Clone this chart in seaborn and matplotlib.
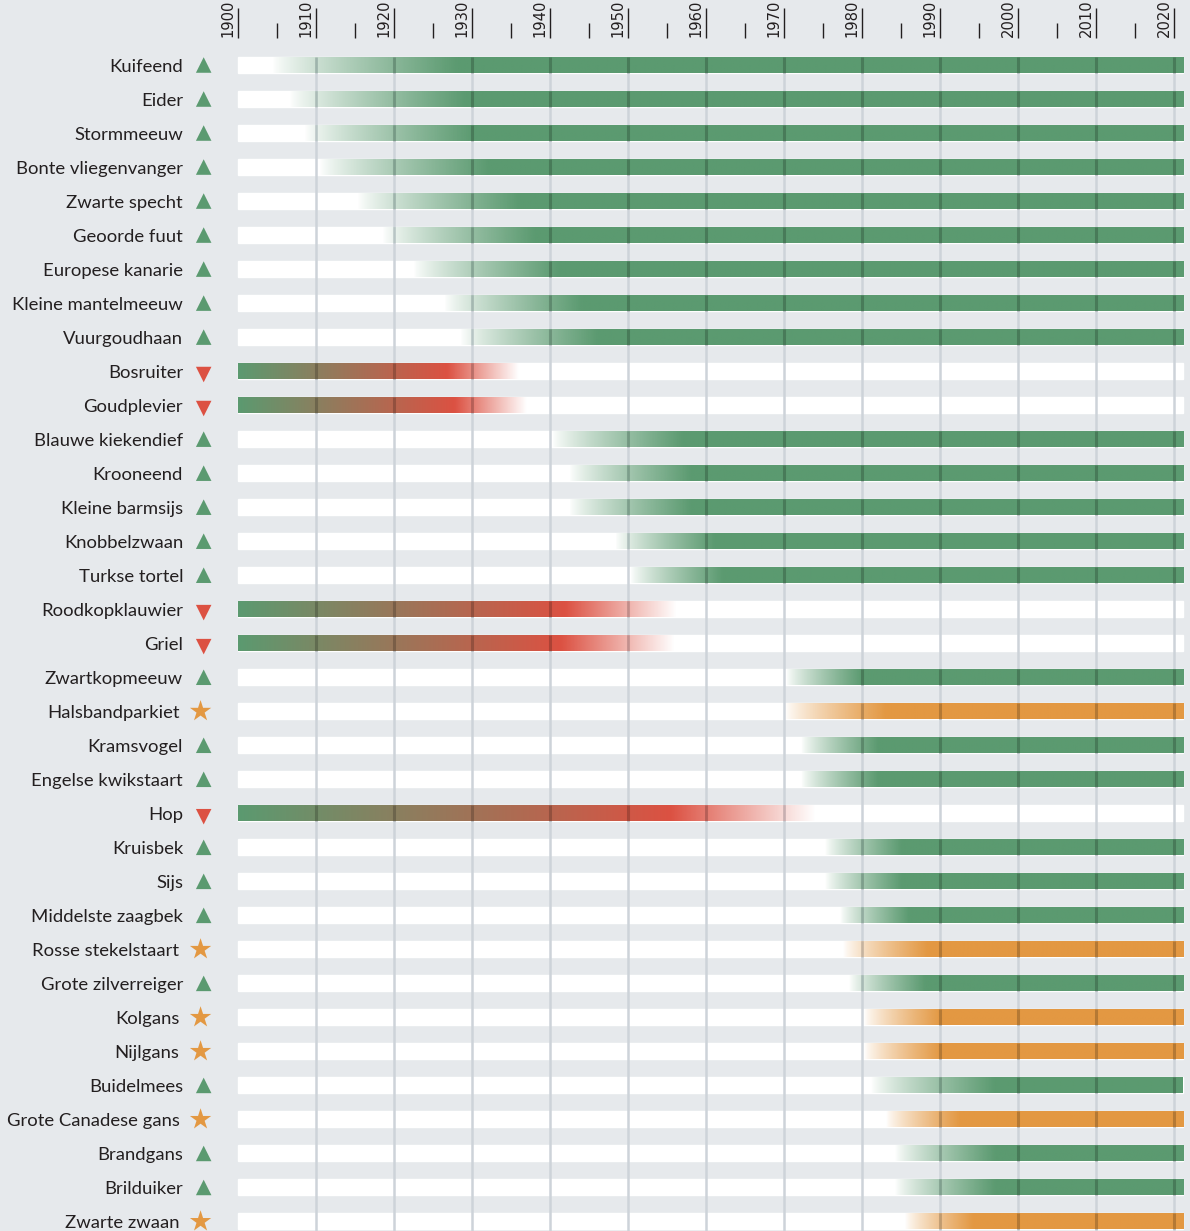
import numpy as np
import pandas as pd
import seaborn as sns
import matplotlib.pyplot as plt
from matplotlib.colors import to_rgb

# species, trend and years
species = ['Kuifeend', 'Eider', 'Stormmeeuw', 'Bonte vliegenvanger', 'Zwarte specht',
           'Geoorde fuut', 'Europese kanarie', 'Kleine mantelmeeuw', 'Vuurgoudhaan',
           'Bosruiter', 'Goudplevier', 'Blauwe kiekendief', 'Krooneend', 'Kleine barmsijs',
           'Knobbelzwaan', 'Turkse tortel', 'Roodkopklauwier', 'Griel', 'Zwartkopmeeuw',
           'Halsbandparkiet', 'Kramsvogel', 'Engelse kwikstaart', 'Hop', 'Kruisbek', 'Sijs',
           'Middelste zaagbek', 'Rosse stekelstaart', 'Grote zilverreiger', 'Kolgans',
           'Nijlgans', 'Buidelmees', 'Grote Canadese gans', 'Brandgans', 'Brilduiker',
           'Zwarte zwaan']
trend = ['up', 'up', 'up', 'up', 'up', 'up', 'up', 'up', 'up',
         'down', 'down', 'up', 'up', 'up', 'up', 'up', 'down', 'down', 'up',
         'new', 'up', 'up', 'down', 'up', 'up', 'up', 'new', 'up', 'new',
         'new', 'up', 'new', 'up', 'up', 'new']
# up/new: colour starts at begin_year, fully solid at solid_year
# down: green at begin_year, red at solid_year, gone at end_year
begin_year = [1904.4, 1906.5, 1908.4, 1910.4, 1915.3, 1918.5, 1922.4, 1926.4, 1928.5,
              1900, 1900, 1940.3, 1942.4, 1942.4, 1948.3, 1950.2, 1900, 1900, 1970.3,
              1970.1, 1972.2, 1972.2, 1900, 1975.2, 1975.2, 1977.2, 1977.5, 1978.3, 1980.2,
              1980.2, 1981.2, 1983.1, 1984.2, 1984.2, 1985.5]
solid_year = [1928, 1929, 1930, 1932, 1936, 1938, 1941, 1944, 1946,
              1926.8, 1927.8, 1957, 1958, 1958, 1961, 1962, 1942, 1941.5, 1980,
              1983, 1982, 1982, 1955.6, 1985, 1985, 1986, 1988.3, 1988, 1990,
              1990, 1997, 1992.5, 1997, 1997, 1994.2]
end_year = [2021.2] * 9 + [1935.9, 1937.0] + [2021.2] * 5 + [1956.2, 1956.0, 2021.2,
            2021.2, 2021.2, 2021.2, 1974.1] + [2021.2] * 12
decades = list(range(1900, 2021, 10))
half_decades = list(range(1905, 2020, 10))

BG = '#e6e9ec'
GREEN = '#5b9a70'
RED = '#dc5142'
ORANGE = '#e39842'
GRID = '#cdd3d9'
BAR_H = 0.47
X_END = 2021.2

sns.set_theme(style='white', rc={'figure.facecolor': BG, 'axes.facecolor': BG})
plt.rcParams['font.family'] = ['Lato', 'DejaVu Sans']

fig = plt.figure(figsize=(11.9, 12.31), dpi=100)
ax = fig.add_axes([0, 0, 1, 1 - 38 / 1231])

rows = np.arange(len(species))

# white background bars
ax.barh(rows, X_END - 1900, left=1900, height=BAR_H, color='white', zorder=1)

# light grid lines, from top of first bar downwards
for yr in decades[1:]:
    ax.plot([yr, yr], [-BAR_H / 2, 40], color=GRID, lw=1.8, zorder=1.5,
            solid_capstyle='butt')


def bar_rgba(i, xs):
    b, s, e = begin_year[i], solid_year[i], end_year[i]
    if trend[i] == 'down':
        t = np.clip((xs - b) / (s - b), 0, 1)[:, None]
        rgb = (1 - t) * np.array(to_rgb(GREEN)) + t * np.array(to_rgb(RED))
        alpha = 1 - np.clip((xs - s) / (e - s), 0, 1)
    else:
        col = GREEN if trend[i] == 'up' else ORANGE
        rgb = np.tile(to_rgb(col), (len(xs), 1))
        alpha = np.clip((xs - b) / (s - b), 0, 1) ** 0.8
    return rgb, alpha


# gradient bars
for i in rows:
    b, e = begin_year[i], end_year[i]
    xs = np.linspace(b, e, 600)
    rgb, alpha = bar_rgba(i, xs)
    img = np.concatenate([rgb, alpha[:, None]], axis=1)[None, :, :]
    ax.imshow(img, extent=[b, e, i + BAR_H / 2, i - BAR_H / 2], aspect='auto',
              interpolation='bilinear', zorder=2)
    # grid lines look darker where they cross a coloured bar
    for yr in decades[1:]:
        if b < yr < e:
            a = bar_rgba(i, np.array([yr]))[1][0]
            ax.plot([yr, yr], [i - BAR_H / 2, i + BAR_H / 2], color='black',
                    alpha=0.2 * a, lw=2.2, zorder=3, solid_capstyle='butt')

# trend markers (down triangles sit a little lower, stars a little left)
marker_x = [1895.2 if t == 'new' else 1895.6 for t in trend]
marker_y = [r + 0.1 if t == 'down' else r for r, t in zip(rows, trend)]
marks = pd.DataFrame({'x': marker_x, 'y': marker_y, 'trend': trend})
sns.scatterplot(data=marks, x='x', y='y', hue='trend', style='trend', size='trend',
                palette={'up': GREEN, 'down': RED, 'new': ORANGE},
                markers={'up': '^', 'down': 'v', 'new': '*'},
                sizes={'up': 125, 'down': 125, 'new': 260},
                linewidth=0, legend=False, ax=ax, zorder=4, clip_on=False)

# species names
for i, name in enumerate(species):
    x = 1892.5 if trend[i] == 'new' else 1892.95
    ax.text(x, i + 0.2, name, ha='right', va='baseline', fontsize=13.3,
            color='#231f20')

# year labels along the top
for yr in decades:
    ax.annotate(str(yr), xy=(yr, 1), xycoords=('data', 'axes fraction'),
                xytext=(-2.5, 1), textcoords='offset pixels', rotation=90,
                ha='right', va='bottom', fontsize=10.6, color='#231f20',
                family=['Liberation Sans Narrow', 'DejaVu Sans'])

ax.set_xlim(1900 - 238 / 7.8, 1900 + (1190 - 238) / 7.8)
ax.set_ylim(34.28, -0.794)
ax.xaxis.set_ticks_position('top')
ax.set_xticks(decades)
ax.set_xticks(half_decades, minor=True)
ax.tick_params(axis='x', which='major', length=21.6, width=1.0, color='#231f20',
               direction='out', labeltop=False, labelbottom=False, top=True, bottom=False)
ax.tick_params(axis='x', which='minor', length=10.8, width=1.0, color='#231f20',
               direction='out', top=True, bottom=False)
ax.set_yticks([])
ax.set_xlabel('')
ax.set_ylabel('')
for sp in ax.spines.values():
    sp.set_visible(False)

fig.savefig('out.png', dpi=100, facecolor=BG)
